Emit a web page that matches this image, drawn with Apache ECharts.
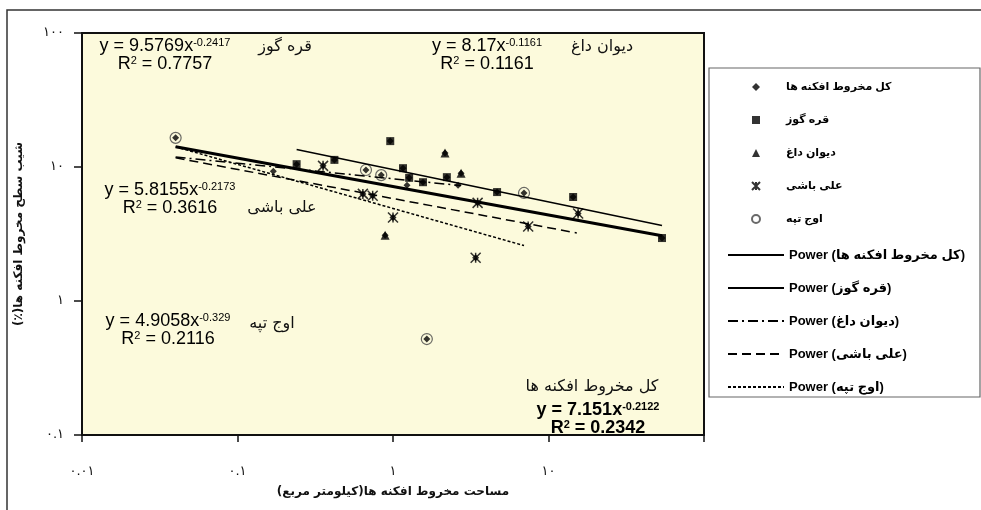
<!DOCTYPE html>
<html>
<head>
<meta charset="utf-8">
<script src="https://cdn.jsdelivr.net/npm/echarts@6.0.0/dist/echarts.min.js"></script>
<style>
html,body{margin:0;padding:0;background:#fff;}
#main{width:981px;height:510px;}
</style>
</head>
<body>
<div id="main"></div>
<script>
// نقاط هر منطقه [مساحت, شیب]
var gharegoz = [[0.24,10.5],[0.42,11.3],[0.96,15.6],[1.16,9.8],[1.27,8.3],[1.56,7.7],[2.22,8.4],[4.67,6.5],[14.4,5.97],[53.7,2.95]];
var diwanDagh = [[2.16,12.7],[2.74,9.0],[0.89,3.1]];
var aliBashi = [[0.355,10.2],[0.64,6.3],[0.74,6.1],[1.0,4.2],[3.5,5.4],[3.4,2.1],[7.4,3.6],[15.5,4.5]];
var owjTappeh = [[0.04,16.5],[0.67,9.5],[0.84,8.7],[1.65,0.52],[6.96,6.4]];
var otherFans = [[0.17,9.3],[1.23,7.3],[2.62,7.3]];

var seriesNames = ['کل مخروط افکنه ها','قره گوز','دیوان داغ','علی باشی','اوج تپه'];

// خطوط روند توانی y = a x^b
var trendA = [7.151, 9.5769, 8.17, 5.8155, 4.9058];
var trendB = [-0.2122, -0.2417, -0.1161, -0.2173, -0.329];
var trendR2 = ['0.2342','0.7757','0.1161','0.3616','0.2116'];
var trendXMin = [0.04, 0.24, 0.04, 0.04, 0.04];
var trendXMax = [53.7, 53.7, 2.74, 15.2, 6.96];

var xTicks = [0.01, 0.1, 1, 10, 100];
var yTicks = [0.1, 1, 10, 100];

var FONT = 'Liberation Sans, DejaVu Sans, sans-serif';
var RLM = '\u200F';
var faDigits = '۰۱۲۳۴۵۶۷۸۹';
function toFa(v){
    return String(Number(v.toPrecision(6))).replace(/\d/g, function(d){ return faDigits[d]; });
}

var allFans = [].concat(gharegoz, diwanDagh, aliBashi, owjTappeh, otherFans);

var myChart = echarts.init(document.getElementById('main'));

var lineStyles = [
    {width: 3, type: 'solid'},
    {width: 1.5, type: 'solid'},
    {width: 1.5, type: [10, 4, 2, 4]},
    {width: 1.5, type: [9, 5]},
    {width: 1.5, type: [3, 2]}
];

var trendSeries = [];
for (var i = 0; i < 5; i++) {
    var x1 = trendXMin[i], x2 = trendXMax[i];
    trendSeries.push({
        name: 'Power (' + seriesNames[i] + ')',
        type: 'line',
        symbol: 'none',
        silent: true,
        itemStyle: {color: 'rgba(0,0,0,0)'},
        lineStyle: {color: '#000', width: lineStyles[i].width, type: lineStyles[i].type},
        data: [[x1, trendA[i]*Math.pow(x1, trendB[i])], [x2, trendA[i]*Math.pow(x2, trendB[i])]]
    });
}

var starPath = 'path://M0,0L10,10M10,0L0,10M5,0L5,10';

var scatterSeries = [
    {name: seriesNames[1], type: 'scatter', symbol: 'rect', symbolSize: 8, itemStyle: {color: '#000'}, data: gharegoz},
    {name: seriesNames[2], type: 'scatter', symbol: 'triangle', symbolSize: 9, itemStyle: {color: '#000'}, data: diwanDagh},
    {name: seriesNames[3], type: 'scatter', symbol: starPath, symbolSize: 10, itemStyle: {color: '#000', borderColor: '#000', borderWidth: 1.5}, data: aliBashi},
    {name: seriesNames[4], type: 'scatter', symbol: 'circle', symbolSize: 11, itemStyle: {color: 'rgba(0,0,0,0)', borderColor: '#444', borderWidth: 1.2}, data: owjTappeh},
    {name: seriesNames[0], type: 'scatter', symbol: 'diamond', symbolSize: 7, itemStyle: {color: '#000'}, data: allFans}
];

function eqText(a, b, r2) {
    return 'y = ' + a + 'x{sup|' + b + '}\nR{sup|2} = ' + r2;
}
function eqStyle(bold) {
    return {
        font: (bold ? 'bold ' : '') + '18px ' + FONT,
        fill: '#000',
        align: 'center',
        verticalAlign: 'middle',
        lineHeight: 18,
        rich: {sup: {fontSize: 11, fontWeight: bold ? 'bold' : 'normal', fontFamily: FONT, verticalAlign: 'top', lineHeight: 12}}
    };
}
function eqBlock(i, x, y, bold) {
    var s = eqStyle(bold);
    s.text = eqText(trendA[i], trendB[i], trendR2[i]);
    return {type: 'text', x: x, y: y, z: 10, style: s};
}
function faLabel(txt, x, y) {
    return {type: 'text', x: x, y: y, z: 10, style: {text: txt, font: '16px DejaVu Sans, sans-serif', fill: '#111', align: 'center', verticalAlign: 'middle'}};
}

var option = {
    animation: false,
    backgroundColor: '#fff',
    grid: {
        left: 82, top: 33, right: 277, bottom: 75,
        show: true, backgroundColor: '#FCFADC', borderColor: '#111', borderWidth: 2
    },
    xAxis: {
        type: 'log', logBase: 10, min: 0.01, max: 100,
        name: RLM + 'مساحت مخروط افکنه ها(کیلومتر مربع)' + RLM,
        nameLocation: 'middle', nameGap: 51,
        nameTextStyle: {fontFamily: 'DejaVu Sans', fontWeight: 'bold', fontSize: 12, color: '#111'},
        axisLine: {lineStyle: {color: '#111', width: 1.5}},
        axisTick: {length: 7, lineStyle: {color: '#111', width: 1.5}},
        axisLabel: {margin: 30, fontFamily: 'DejaVu Sans', fontSize: 13, color: '#111',
            formatter: function(v){ return v >= 100 ? '' : toFa(v); }},
        splitLine: {show: false}
    },
    yAxis: {
        type: 'log', logBase: 10, min: 0.1, max: 100,
        name: RLM + 'شیب سطح مخروط افکنه ها(٪)' + RLM,
        nameLocation: 'middle', nameGap: 57, nameRotate: 90,
        nameTextStyle: {fontFamily: 'DejaVu Sans', fontWeight: 'bold', fontSize: 12, color: '#111'},
        axisLine: {lineStyle: {color: '#111', width: 1.5}},
        axisTick: {length: 8, lineStyle: {color: '#111', width: 1.5}},
        axisLabel: {margin: 18, fontFamily: 'DejaVu Sans', fontSize: 13, color: '#111',
            formatter: function(v){ return toFa(v); }},
        splitLine: {show: false}
    },
    legend: [
        {
            data: seriesNames,
            orient: 'vertical', left: 746, top: 75,
            itemWidth: 8, itemHeight: 8, itemGap: 19,
            selectedMode: false,
            textStyle: {fontFamily: FONT, fontWeight: 'bold', fontSize: 11, color: '#000', lineHeight: 14, padding: [0, 0, 0, 21]}
        },
        {
            data: seriesNames.map(function(n){ return 'Power (' + n + ')'; }),
            orient: 'vertical', left: 722, top: 242,
            itemWidth: 56, itemHeight: 9, itemGap: 17,
            selectedMode: false,
            textStyle: {fontFamily: FONT, fontWeight: 'bold', fontSize: 13, color: '#000', lineHeight: 16}
        }
    ],
    graphic: [
        {type: 'rect', z: -10, shape: {x: 7, y: 10, width: 1000, height: 600}, style: {fill: 'none', stroke: '#333', lineWidth: 1.5}},
        {type: 'rect', z: -10, shape: {x: 709, y: 68, width: 271, height: 329}, style: {fill: '#fff', stroke: '#666', lineWidth: 1.2}},
        eqBlock(1, 165, 55, false),
        faLabel('قره گوز', 285, 47),
        eqBlock(2, 487, 55, false),
        faLabel('دیوان داغ', 602, 47),
        eqBlock(3, 170, 199, false),
        faLabel('علی باشی', 282, 208),
        eqBlock(4, 168, 330, false),
        faLabel('اوج تپه', 272, 324),
        faLabel('کل مخروط افکنه ها', 592, 387),
        eqBlock(0, 598, 419, true)
    ],
    series: trendSeries.concat(scatterSeries)
};

myChart.setOption(option);
</script>
</body>
</html>
